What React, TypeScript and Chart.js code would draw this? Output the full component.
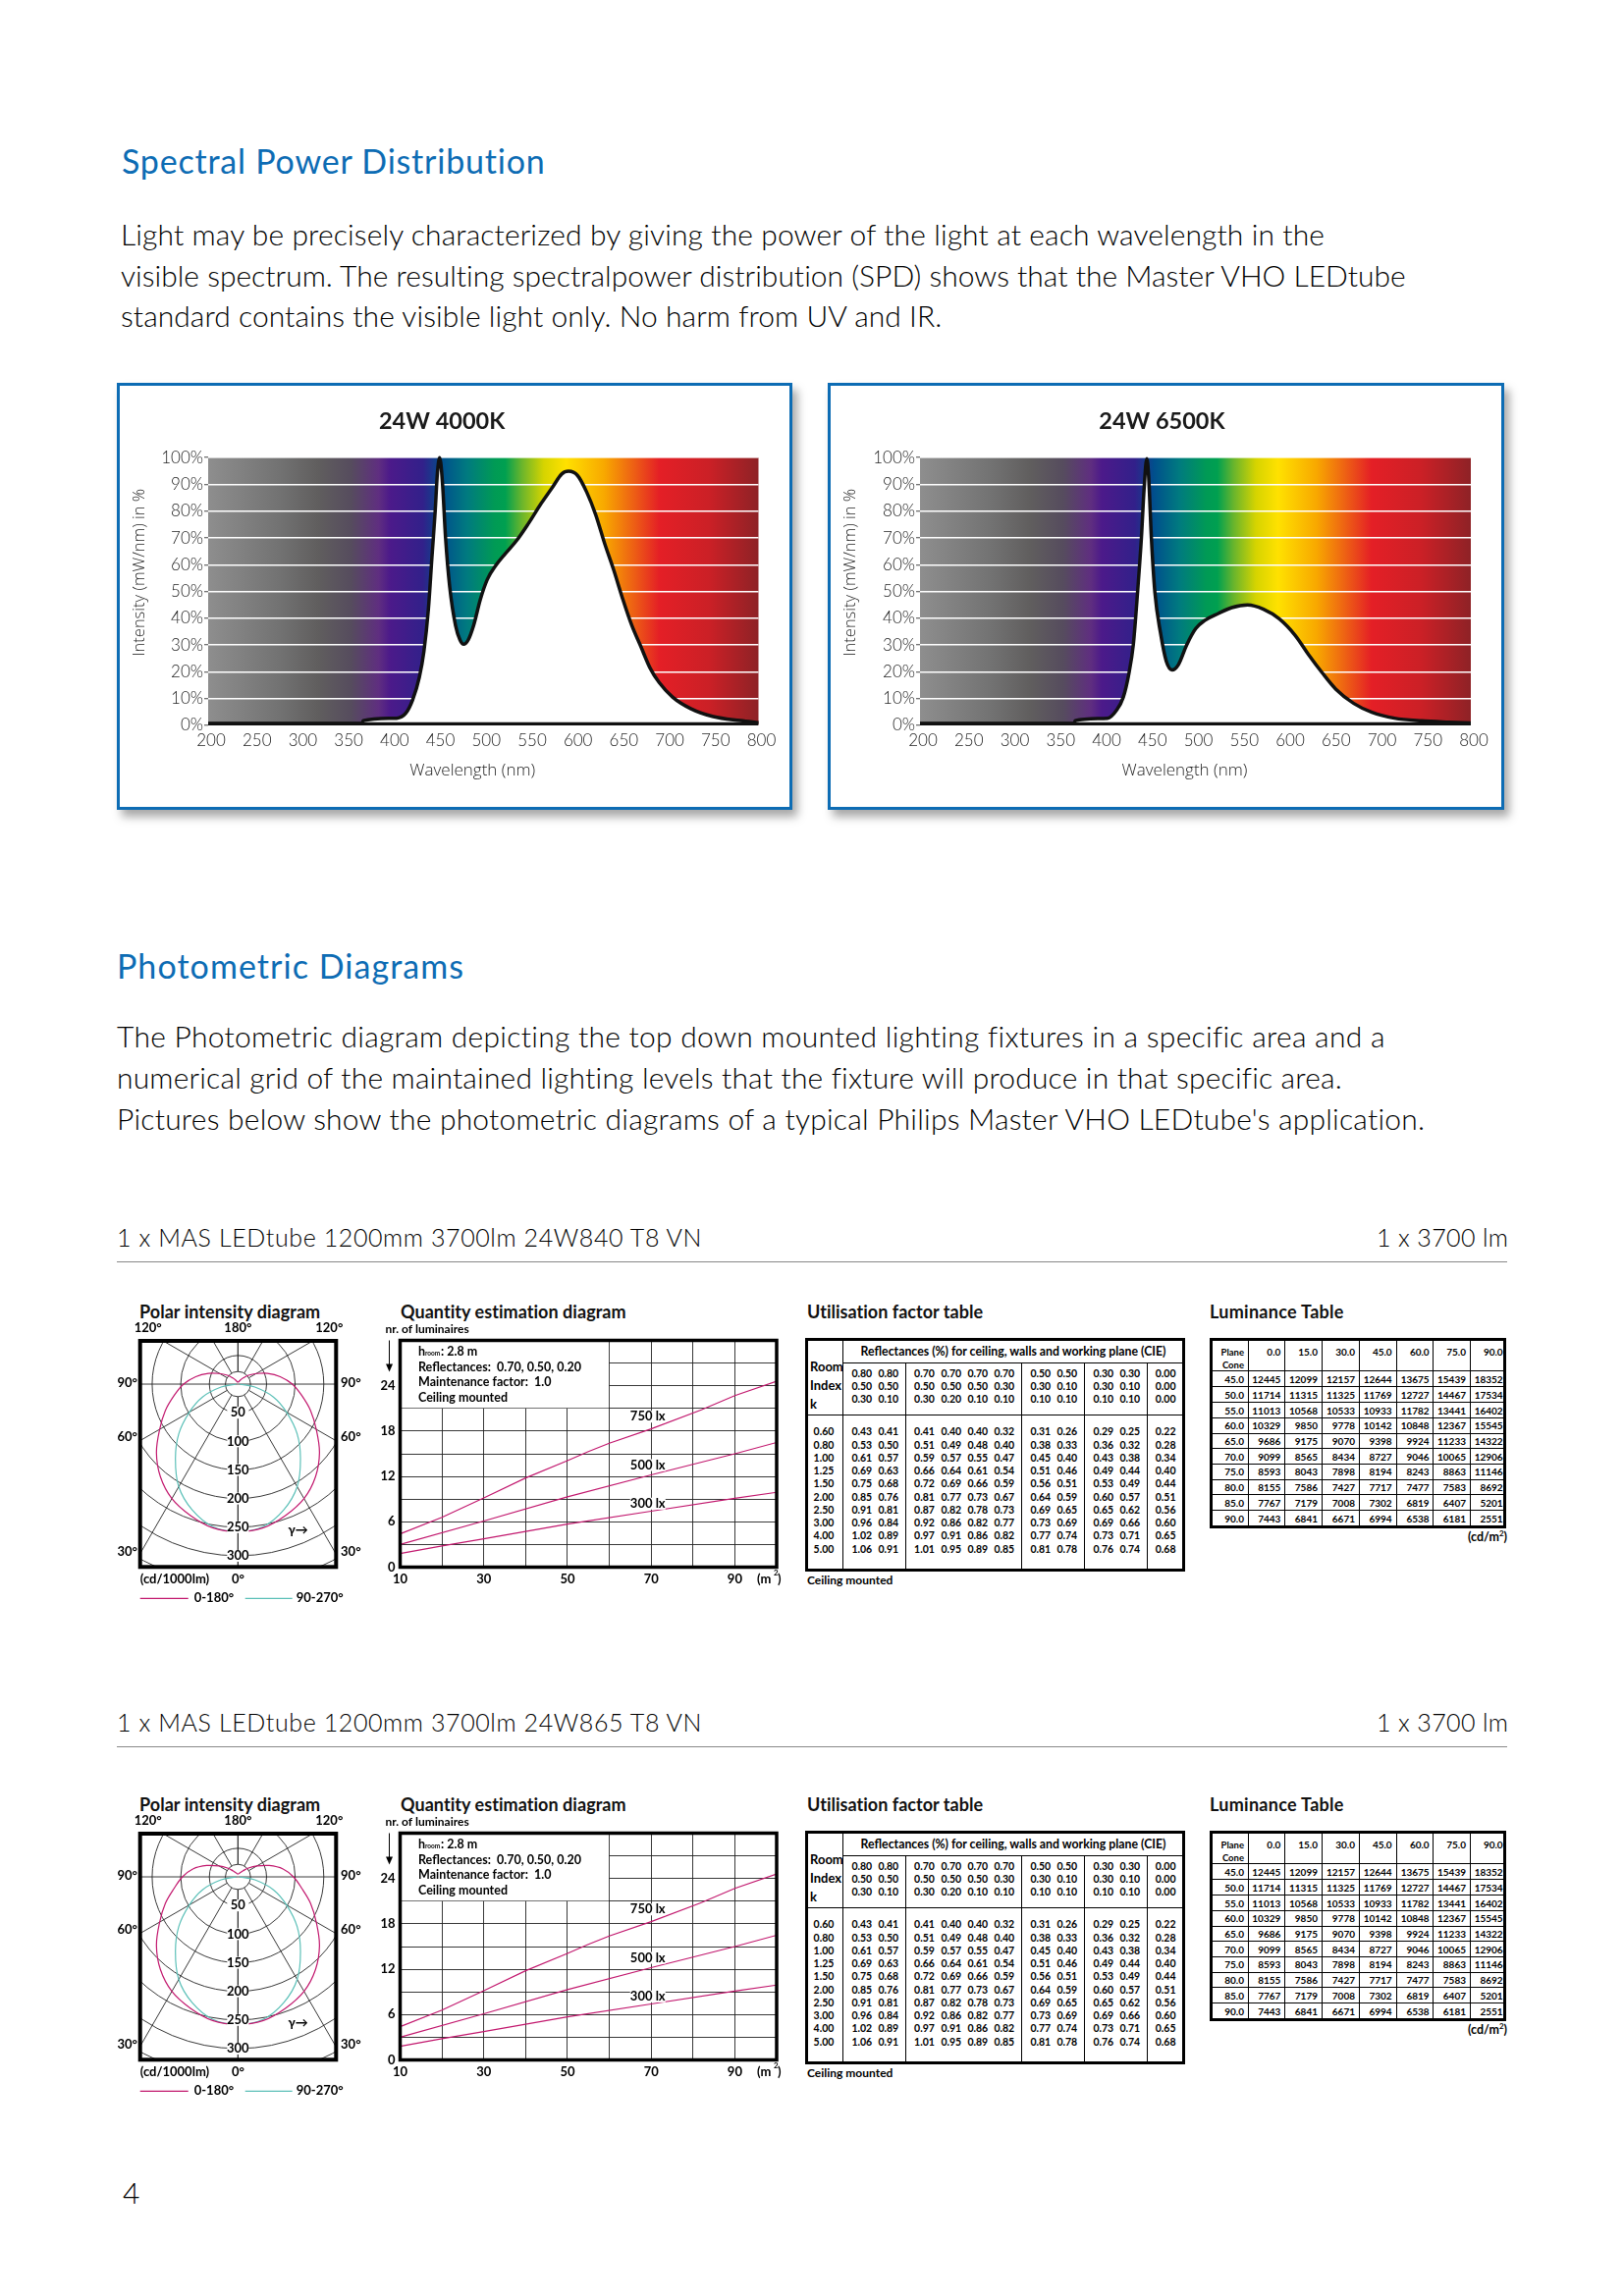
import React, { useEffect, useRef } from "react";
import { Chart, registerables } from "chart.js";
Chart.register(...registerables);

// ---------- data ----------
const SPD_TICKS_Y = [0, 10, 20, 30, 40, 50, 60, 70, 80, 90, 100];
const SPD1_NM = [200, 368, 369, 405.6, 415.4, 422.8, 430.2, 435.2, 440.1, 444, 447.5, 450, 452.4, 455.4, 458.8, 463.3, 469.7, 474.6, 478.5, 483.5, 489.4, 496.8, 504.2, 514, 523.9, 536.2, 548.6, 563.3, 575.7, 585.5, 592.9, 602.8, 612.6, 622.5, 632.4, 642.2, 652.1, 661.9, 671.8, 681.7, 691.5, 706.3, 726, 750.7, 780.3, 800];
const SPD1_PCT = [0.7, 0.7, 1.8, 2.7, 4.5, 9.4, 17.9, 27.6, 43.4, 62.9, 79.9, 94.5, 100, 90.9, 70.2, 51.9, 37.3, 31.9, 30.3, 31.9, 37.3, 47.1, 54.4, 59.9, 64.1, 69, 75.1, 83, 89.1, 93.9, 94.9, 93.3, 87.2, 78.7, 67.8, 58, 47.1, 37.3, 29.4, 21.5, 16.1, 10.6, 6.3, 3.3, 1.8, 1];
const SPD2_NM = [200, 368, 369, 404.3, 414.1, 421.5, 427.4, 432.3, 437.2, 441.2, 444.1, 447.1, 449, 452, 455.9, 461.8, 468.2, 474.6, 481.5, 490.4, 500.2, 510.1, 524.9, 539.6, 556.8, 574.1, 591.3, 608.5, 623.3, 638, 652.8, 672.5, 692.2, 716.8, 746.3, 775.9, 800];
const SPD2_PCT = [0.7, 0.7, 1.8, 2.7, 5.7, 10.6, 19.1, 30, 50.7, 70.2, 88.4, 99.6, 93.3, 70.2, 49.5, 34.9, 24, 20.7, 22.7, 30, 36.1, 39.2, 41.8, 44, 45, 43.4, 39.8, 33.7, 26.4, 19.7, 13.6, 8.2, 4.9, 2.7, 1.7, 1.2, 0.9];
const SPECTRUM_STOPS: [number, string][] = [[0, "#8e8e8e"], [0.13, "#727272"], [0.2, "#605e5e"], [0.26, "#564c5e"], [0.31, "#5f2e80"], [0.33, "#4c1a8a"], [0.39, "#32208a"], [0.425, "#004f8c"], [0.47, "#007a80"], [0.52, "#009a55"], [0.54, "#00a050"], [0.57, "#6ab52c"], [0.61, "#d6d400"], [0.65, "#ffe100"], [0.72, "#f8a800"], [0.82, "#e41f26"], [0.91, "#cb2026"], [1, "#8e2226"]];

const POLAR_THETA = [0, 10, 20, 30, 40, 50, 60, 70, 80, 90, 100, 110, 120, 130, 140, 150, 165, 180];
const POLAR_C0_A = [258, 255, 244, 231, 211, 186, 158, 135, 113, 95, 75, 55, 37, 24, 14, 8, 4, 3];
const POLAR_C0_B = [258, 255, 244, 231, 211, 186, 158, 135, 113, 97, 80, 58, 38, 24, 14, 9, 6, 4.5];
const POLAR_C90_THETA = [0, 10, 20, 30, 40, 50, 60, 70, 80, 90];
const POLAR_C90 = [258, 253, 234, 207, 170, 135, 98, 66, 30, 3];
const POLAR_RINGS = [22, 50, 100, 150, 200, 250, 300, 350, 400];
const POLAR_RING_LABELS = [50, 100, 150, 200, 250, 300];
const POLAR_SPOKES = [0, 30, 60, 90, 120, 150, 180];

const AREA_X = [10, 20, 30, 40, 50, 55, 60, 70, 82, 90, 100];
const LUX750 = [4.4, 6.6, 9.16, 11.8, 14.1, 15.3, 16.4, 18.3, 20.8, 22.7, 24.6];
const LUX500_X = [10, 30, 50, 70, 90, 100];
const LUX500 = [3.0, 6.1, 9.3, 12.2, 15, 16.5];
const LUX300_X = [10, 20, 30, 50, 70, 90, 100];
const LUX300 = [1.8, 2.8, 3.75, 5.7, 7.4, 9.1, 9.9];
const QTY_X_LABELS = [10, 30, 50, 70, 90];
const QTY_Y_LABELS = [0, 6, 12, 18, 24];
const QTY_NOTES = ["Reflectances:  0.70, 0.50, 0.20", "Maintenance factor:  1.0", "Ceiling mounted"];
const LUX_LABELS: [string, number, number][] = [["750 lx", 69.2, 19.9], ["500 lx", 69.2, 13.5], ["300 lx", 69.2, 8.4]];

const UF_HEAD = [
  ["0.80", "0.80", "0.70", "0.70", "0.70", "0.70", "0.50", "0.50", "0.30", "0.30", "0.00"],
  ["0.50", "0.50", "0.50", "0.50", "0.50", "0.30", "0.30", "0.10", "0.30", "0.10", "0.00"],
  ["0.30", "0.10", "0.30", "0.20", "0.10", "0.10", "0.10", "0.10", "0.10", "0.10", "0.00"],
];
const UF_K = ["0.60", "0.80", "1.00", "1.25", "1.50", "2.00", "2.50", "3.00", "4.00", "5.00"];
const UF_ROWS = [
  ["0.43", "0.41", "0.41", "0.40", "0.40", "0.32", "0.31", "0.26", "0.29", "0.25", "0.22"],
  ["0.53", "0.50", "0.51", "0.49", "0.48", "0.40", "0.38", "0.33", "0.36", "0.32", "0.28"],
  ["0.61", "0.57", "0.59", "0.57", "0.55", "0.47", "0.45", "0.40", "0.43", "0.38", "0.34"],
  ["0.69", "0.63", "0.66", "0.64", "0.61", "0.54", "0.51", "0.46", "0.49", "0.44", "0.40"],
  ["0.75", "0.68", "0.72", "0.69", "0.66", "0.59", "0.56", "0.51", "0.53", "0.49", "0.44"],
  ["0.85", "0.76", "0.81", "0.77", "0.73", "0.67", "0.64", "0.59", "0.60", "0.57", "0.51"],
  ["0.91", "0.81", "0.87", "0.82", "0.78", "0.73", "0.69", "0.65", "0.65", "0.62", "0.56"],
  ["0.96", "0.84", "0.92", "0.86", "0.82", "0.77", "0.73", "0.69", "0.69", "0.66", "0.60"],
  ["1.02", "0.89", "0.97", "0.91", "0.86", "0.82", "0.77", "0.74", "0.73", "0.71", "0.65"],
  ["1.06", "0.91", "1.01", "0.95", "0.89", "0.85", "0.81", "0.78", "0.76", "0.74", "0.68"],
];
const LUM_HEAD = ["0.0", "15.0", "30.0", "45.0", "60.0", "75.0", "90.0"];
const LUM_CONE = ["45.0", "50.0", "55.0", "60.0", "65.0", "70.0", "75.0", "80.0", "85.0", "90.0"];
const LUM_ROWS = [
  ["12445", "12099", "12157", "12644", "13675", "15439", "18352"],
  ["11714", "11315", "11325", "11769", "12727", "14467", "17534"],
  ["11013", "10568", "10533", "10933", "11782", "13441", "16402"],
  ["10329", "9850", "9778", "10142", "10848", "12367", "15545"],
  ["9686", "9175", "9070", "9398", "9924", "11233", "14322"],
  ["9099", "8565", "8434", "8727", "9046", "10065", "12906"],
  ["8593", "8043", "7898", "8194", "8243", "8863", "11146"],
  ["8155", "7586", "7427", "7717", "7477", "7583", "8692"],
  ["7767", "7179", "7008", "7302", "6819", "6407", "5201"],
  ["7443", "6841", "6671", "6994", "6538", "6181", "2551"],
];

// ---------- geometry of the tables (style only) ----------
const UF_COL_X = [202, 283, 393, 475, 556, 637, 748, 829, 940, 1021, 1130].map((v) => v / 3);
const UF_SEP_X = [148, 340, 695, 886, 1078].map((v) => v / 3);
const UF_HEAD_Y = [237, 276, 316].map((v) => v / 3);
const UF_ROW_Y = [415, 455, 495, 534, 574, 614, 654, 694, 733, 773].map((v) => v / 3);
const LUM_RIGHT = [238, 351, 465, 578, 692, 804, 917].map((v) => v / 3);
const LUM_SEP = [137, 250, 362, 476, 590, 703, 815].map((v) => v / 3);
const LUM_LINES = [227, 275, 323, 371, 419, 465, 513, 560, 606, 654].map((v) => v / 3);
const LUM_ROW_Y = [255, 302, 350, 397, 445, 491, 538, 586, 633, 680].map((v) => v / 3);

const SANS = "Lato, 'Open Sans', sans-serif";
const AXIS_FONT = "'Open Sans', Lato, sans-serif";
const MAGENTA = "#c2186e";
const CYAN = "#5cc0b8";
const BLUE = "#0d6cb4";

// ---------- helpers ----------
const measurer = document.createElement("canvas").getContext("2d")!;
function Fit({ x, cy, w, size, weight = 300, color = "#000", children }: any) {
  measurer.font = `${weight} ${size}px ${SANS}`;
  const text = String(children);
  const ls = w ? (w - measurer.measureText(text).width) / Math.max(1, text.length - 1) : 0;
  return (
    <div style={{ position: "absolute", left: x, top: cy - size * 0.6, lineHeight: `${size * 1.2}px`, fontSize: size, fontWeight: weight, color, fontFamily: SANS, letterSpacing: ls, whiteSpace: "pre" }}>
      {text}
    </div>
  );
}

function Cv({ left, top, width, height, config }: any) {
  const ref = useRef<HTMLCanvasElement>(null);
  useEffect(() => {
    const chart = new Chart(ref.current!, config);
    return () => chart.destroy();
  }, []);
  return (
    <div style={{ position: "absolute", left, top, width, height }}>
      <canvas ref={ref} width={width} height={height} />
    </div>
  );
}

const spectrumPlugin = {
  id: "spectrum",
  beforeDraw(chart: any) {
    const { ctx, chartArea: a } = chart;
    const g = ctx.createLinearGradient(a.left, 0, a.right, 0);
    SPECTRUM_STOPS.forEach(([p, c]) => g.addColorStop(p, c));
    ctx.save();
    ctx.fillStyle = g;
    ctx.fillRect(a.left, a.top, a.right - a.left, a.bottom - a.top);
    ctx.restore();
  },
};

function spdConfig(title: string, nm: number[], pct: number[], yW: number, xH: number, right: number) {
  return {
    type: "line",
    data: {
      datasets: [
        { label: "Baseline", data: [{ x: 200, y: 0.5 }, { x: 800, y: 0.5 }], borderColor: "#111", borderWidth: 4, pointRadius: 0, fill: false, order: 0 },
        { label: title.trim(), data: nm.map((x, i) => ({ x, y: pct[i] })), borderColor: "#111", borderWidth: 3.5, backgroundColor: "#fff", fill: "origin", pointRadius: 0, cubicInterpolationMode: "monotone", clip: 6, order: 1 },
      ],
    },
    plugins: [spectrumPlugin],
    options: {
      responsive: false,
      animation: false,
      layout: { padding: { right } },
      plugins: {
        legend: { display: false },
        tooltip: { enabled: false },
        title: { display: true, text: title, color: "#1a1a1a", font: { family: SANS, size: 23.5, weight: "700" }, padding: { top: 23, bottom: 23 } },
      },
      scales: {
        x: {
          type: "linear", min: 200, max: 800,
          grid: { display: false, drawTicks: false }, border: { display: false },
          afterFit: (s: any) => { s.height = xH; },
          ticks: { stepSize: 50, padding: 5, labelOffset: 3, maxRotation: 0, autoSkip: false, color: "#222", font: { family: SANS, size: 17, weight: "300" } },
          title: { display: true, text: "Wavelength (nm)     ", color: "#222", font: { family: AXIS_FONT, size: 17, weight: "300" }, padding: { top: 0, bottom: 28 } },
        },
        y: {
          min: 0, max: 100,
          afterFit: (s: any) => { s.width = yW; },
          afterBuildTicks: (s: any) => { s.ticks = SPD_TICKS_Y.map((value) => ({ value })); },
          grid: { color: "#fff", lineWidth: 1.5, tickColor: "#444", tickLength: 4, tickWidth: 1 }, border: { display: false },
          ticks: { padding: 1, color: "#222", callback: (v: number) => v + "%", font: { family: SANS, size: 17, weight: "300" } },
          title: { display: true, text: "         Intensity (mW/nm) in %", color: "#222", font: { family: AXIS_FONT, size: 16.5, weight: "300" }, padding: { top: 10, bottom: 0 } },
        },
      },
    },
  };
}

function txt(ctx: any, s: string, x: number, y: number, font: string, align = "center") {
  ctx.font = font;
  ctx.textAlign = align;
  ctx.textBaseline = "middle";
  ctx.fillStyle = "#000";
  ctx.fillText(s, x, y);
}
const B13 = `700 13px ${SANS}`;

const polarPlugin = {
  id: "polarGrid",
  beforeDatasetsDraw(chart: any) {
    const { ctx, chartArea: a, scales: { x, y } } = chart;
    const cx = x.getPixelForValue(0), cy = y.getPixelForValue(0);
    const ux = x.getPixelForValue(1) - cx, uy = cy - y.getPixelForValue(1);
    ctx.save();
    ctx.beginPath();
    ctx.rect(a.left, a.top, a.right - a.left, a.bottom - a.top);
    ctx.clip();
    ctx.strokeStyle = "#222";
    ctx.lineWidth = 0.9;
    POLAR_RINGS.forEach((r) => {
      ctx.beginPath();
      ctx.ellipse(cx, cy, r * ux, r * uy, 0, 0, Math.PI * 2);
      ctx.stroke();
    });
    POLAR_SPOKES.forEach((deg) => {
      const t = (deg * Math.PI) / 180;
      const start = deg === 90 ? 0 : 22;
      [-1, 1].forEach((side) => {
        ctx.beginPath();
        ctx.moveTo(cx + side * Math.sin(t) * start * ux, cy + Math.cos(t) * start * uy);
        ctx.lineTo(cx + side * Math.sin(t) * 700 * ux, cy + Math.cos(t) * 700 * uy);
        ctx.stroke();
      });
    });
    ctx.restore();
  },
  afterDatasetsDraw(chart: any) {
    const { ctx, chartArea: a, scales: { x, y } } = chart;
    const cx = x.getPixelForValue(0);
    ctx.save();
    POLAR_RING_LABELS.forEach((r) => {
      const py = y.getPixelForValue(-r);
      ctx.fillStyle = "#fff";
      ctx.fillRect(cx - 11, py - 6, 22, 12);
      txt(ctx, String(r), cx, py, B13);
    });
    txt(ctx, "γ→", x.getPixelForValue(105), y.getPixelForValue(-255), B13);
    ctx.strokeStyle = "#000";
    ctx.lineWidth = 4;
    ctx.strokeRect(a.left, a.top, a.right - a.left, a.bottom - a.top);
    const la = a.left - 13, ra = a.right + 15;
    [["120°", a.left + 8, a.top - 13], ["180°", cx, a.top - 13], ["120°", a.right - 7, a.top - 13]].forEach(([s, px, py]: any) => txt(ctx, s, px, py, B13));
    [90, 60, 30].forEach((p, i) => {
      const py = [y.getPixelForValue(2), y.getPixelForValue(-93), y.getPixelForValue(-293)][i];
      txt(ctx, p + "°", la, py, B13);
      txt(ctx, p + "°", ra, py, B13);
    });
    txt(ctx, "(cd/1000lm)", a.left, a.bottom + 13, B13, "left");
    txt(ctx, "0°", cx, a.bottom + 13, B13);
    const ds = chart.data.datasets;
    const ly = a.bottom + 32;
    ctx.lineWidth = 1.2;
    ctx.strokeStyle = ds[0].borderColor;
    ctx.beginPath(); ctx.moveTo(a.left, ly); ctx.lineTo(a.left + 49, ly); ctx.stroke();
    txt(ctx, ds[0].label, a.left + 55, ly, B13, "left");
    ctx.strokeStyle = ds[1].borderColor;
    ctx.beginPath(); ctx.moveTo(a.left + 107, ly); ctx.lineTo(a.left + 155, ly); ctx.stroke();
    txt(ctx, ds[1].label, a.left + 159, ly, B13, "left");
    ctx.restore();
  },
};

function polarSeries(theta: number[], r: number[]) {
  const right = theta.map((t, i) => ({ x: r[i] * Math.sin((t * Math.PI) / 180), y: -r[i] * Math.cos((t * Math.PI) / 180) }));
  const left = right.slice(1).reverse().map((p) => ({ x: -p.x, y: p.y }));
  return [...left, ...right];
}

function polarConfig(c0: number[]) {
  return {
    type: "scatter",
    data: {
      datasets: [
        { label: "0-180°", data: polarSeries(POLAR_THETA, c0), borderColor: MAGENTA, borderWidth: 1.2, showLine: true, pointRadius: 0, tension: 0.35 },
        { label: "90-270°", data: polarSeries(POLAR_C90_THETA, POLAR_C90), borderColor: CYAN, borderWidth: 1.2, showLine: true, pointRadius: 0, tension: 0.35 },
      ],
    },
    plugins: [polarPlugin],
    options: {
      responsive: false,
      animation: false,
      layout: { padding: { left: 32.7, right: 32.7, top: 21, bottom: 48.7 } },
      plugins: { legend: { display: false }, tooltip: { enabled: false } },
      scales: {
        x: { type: "linear", display: false, min: -171, max: 171.5 },
        y: { type: "linear", display: false, min: -319.5, max: 75.5 },
      },
    },
  };
}

const qtyPlugin = {
  id: "qty",
  beforeDatasetsDraw(chart: any) {
    const { ctx, chartArea: a, scales: { x, y } } = chart;
    const bx = x.getPixelForValue(60), by = y.getPixelForValue(21);
    ctx.save();
    ctx.fillStyle = "#fff";
    ctx.fillRect(a.left, a.top, bx - a.left - 0.5, by - a.top - 0.5);
    ctx.restore();
  },
  afterDatasetsDraw(chart: any) {
    const { ctx, chartArea: a, scales: { x, y } } = chart;
    ctx.save();
    LUX_LABELS.forEach(([s, vx, vy]) => {
      const px = x.getPixelForValue(vx), py = y.getPixelForValue(vy);
      ctx.fillStyle = "#fff";
      ctx.fillRect(px - 18, py - 6, 36, 12);
      txt(ctx, s, px, py, B13);
    });
    ctx.strokeStyle = "#000";
    ctx.lineWidth = 3.5;
    ctx.strokeRect(a.left, a.top, a.right - a.left, a.bottom - a.top);
    const tx = a.left + 18.5;
    const F = `700 12.5px ${SANS}`;
    txt(ctx, "h", tx, a.top + 11, F, "left");
    txt(ctx, "room", tx + 7, a.top + 13, `700 6.5px ${SANS}`, "left");
    txt(ctx, ": 2.8 m", tx + 23, a.top + 11, F, "left");
    QTY_NOTES.forEach((s, i) => txt(ctx, s, tx, a.top + 27 + i * 15.5, F, "left"));
    txt(ctx, "nr. of luminaires", a.left - 15, a.top - 11, `700 12px ${SANS}`, "left");
    const ax = a.left - 11;
    ctx.lineWidth = 1;
    ctx.beginPath(); ctx.moveTo(ax, a.top); ctx.lineTo(ax, a.top + 26); ctx.stroke();
    ctx.fillStyle = "#000";
    ctx.beginPath(); ctx.moveTo(ax - 3.5, a.top + 24); ctx.lineTo(ax + 3.5, a.top + 24); ctx.lineTo(ax, a.top + 32); ctx.fill();
    txt(ctx, "(m", a.right - 20, a.bottom + 12, B13, "left");
    txt(ctx, "2", a.right - 3, a.bottom + 6, `700 8px ${SANS}`, "left");
    txt(ctx, ")", a.right + 1, a.bottom + 12, B13, "left");
    ctx.restore();
  },
};

const qtyConfig = {
  type: "line",
  data: {
    datasets: [
      { label: "750 lx", data: AREA_X.map((x, i) => ({ x, y: LUX750[i] })) },
      { label: "500 lx", data: LUX500_X.map((x, i) => ({ x, y: LUX500[i] })) },
      { label: "300 lx", data: LUX300_X.map((x, i) => ({ x, y: LUX300[i] })) },
    ].map((d) => ({ ...d, borderColor: MAGENTA, borderWidth: 1.15, pointRadius: 0, fill: false })),
  },
  plugins: [qtyPlugin],
  options: {
    responsive: false,
    animation: false,
    layout: { padding: { right: 19, top: 20.5 } },
    plugins: { legend: { display: false }, tooltip: { enabled: false } },
    scales: {
      x: {
        type: "linear", min: 10, max: 100,
        afterFit: (s: any) => { s.height = 38.5; },
        grid: { color: "#222", lineWidth: 0.9, drawTicks: false }, border: { display: false },
        ticks: { stepSize: 10, padding: 5, autoSkip: false, maxRotation: 0, color: "#000", font: { family: SANS, size: 13, weight: "700" }, callback: (v: number) => (QTY_X_LABELS.includes(v) ? v : "") },
      },
      y: {
        min: 0, max: 30,
        afterFit: (s: any) => { s.width = 27.5; },
        grid: { color: "#222", lineWidth: 0.9, drawTicks: false }, border: { display: false },
        ticks: { stepSize: 3, padding: 5, autoSkip: false, color: "#000", font: { family: SANS, size: 13, weight: "700" }, callback: (v: number) => (QTY_Y_LABELS.includes(v) ? v : "") },
      },
    },
  },
};

function Line({ l, t, w, h }: any) {
  return <div style={{ position: "absolute", left: l, top: t, width: w, height: h, background: "#000" }} />;
}
function C({ x, y, size = 10.5, children, align = "center" }: any) {
  const tr = align === "center" ? "translate(-50%,-50%)" : align === "right" ? "translate(-100%,-50%)" : "translate(0,-50%)";
  return <span style={{ position: "absolute", left: x, top: y, transform: tr, font: `700 ${size}px ${SANS}`, whiteSpace: "nowrap", color: "#000" }}>{children}</span>;
}

function UfTable({ dy }: any) {
  const L = 820, T = 1320 + dy;
  return (
    <div style={{ position: "absolute", left: L, top: T, width: 390, height: 300 }}>
      <div style={{ position: "absolute", left: 0, top: 43, width: 381, height: 232, border: "3.5px solid #000" }} />
      {UF_SEP_X.map((v, i) => <Line key={i} l={v - 10.3 - 1} t={i === 0 ? 46 : 68} w={1} h={i === 0 ? 232 : 210} />)}
      <Line l={39} t={68} w={345} h={1} />
      <Line l={2} t={121} w={382} h={1} />
      <C x={212} y={56} size={12.3}>Reflectances (%) for ceiling, walls and working plane (CIE)</C>
      {["Room", "Index", "k"].map((s, i) => <C key={s} x={5} y={[72, 91, 110][i]} size={13} align="left">{s}</C>)}
      {UF_HEAD.map((r, j) => r.map((s, i) => <C key={`${j}-${i}`} x={UF_COL_X[i] - 9.5} y={UF_HEAD_Y[j]}>{s}</C>))}
      {UF_K.map((s, j) => <C key={s} x={19} y={UF_ROW_Y[j]}>{s}</C>)}
      {UF_ROWS.map((r, j) => r.map((s, i) => <C key={`r${j}-${i}`} x={UF_COL_X[i] - 9.5} y={UF_ROW_Y[j]}>{s}</C>))}
      <C x={2} y={289} size={12} align="left">Ceiling mounted</C>
    </div>
  );
}

function LumTable({ dy }: any) {
  const L = 1225, T = 1320 + dy;
  return (
    <div style={{ position: "absolute", left: L, top: T, width: 320, height: 270 }}>
      <div style={{ position: "absolute", left: 7, top: 43, width: 296, height: 188, border: "3px solid #000" }} />
      {LUM_SEP.map((v, i) => <Line key={i} l={v} t={46} w={1} h={188} />)}
      {LUM_LINES.map((v, i) => <Line key={i} l={9} t={v} w={298} h={1} />)}
      <C x={42} y={57} size={9.5} align="right">Plane</C>
      <C x={42} y={69.5} size={9.5} align="right">Cone</C>
      {LUM_HEAD.map((s, i) => <C key={s} x={LUM_RIGHT[i]} y={57} size={10} align="right">{s}</C>)}
      {LUM_CONE.map((s, j) => <C key={s} x={42} y={LUM_ROW_Y[j]} size={10} align="right">{s}</C>)}
      {LUM_ROWS.map((r, j) => r.map((s, i) => <C key={`${j}-${i}`} x={LUM_RIGHT[i]} y={LUM_ROW_Y[j]} size={10} align="right">{s}</C>))}
      <C x={310} y={245} size={12.5} align="right">(cd/m<sup style={{ fontSize: 8 }}>2</sup>)</C>
    </div>
  );
}

function Block({ dy, c0 }: any) {
  return (
    <>
      <Fit x={142} cy={1337 + dy} w={185} size={18} weight={700} color="#111">Polar intensity diagram</Fit>
      <Fit x={408} cy={1337 + dy} w={231} size={18} weight={700} color="#111">Quantity estimation diagram</Fit>
      <Fit x={822} cy={1337 + dy} w={180} size={18} weight={700} color="#111">Utilisation factor table</Fit>
      <Fit x={1232} cy={1337 + dy} w={137} size={18} weight={700} color="#111">Luminance Table</Fit>
      <Cv left={110} top={1345 + dy} width={265} height={300} config={polarConfig(c0)} />
      <Cv left={380} top={1345 + dy} width={430} height={290} config={qtyConfig} />
      <UfTable dy={dy} />
      <LumTable dy={dy} />
    </>
  );
}

function SpdBox({ left, width }: any) {
  return <div style={{ position: "absolute", left, top: 390, width, height: 435, boxSizing: "border-box", border: `3px solid ${BLUE}`, background: "#fff", boxShadow: "5px 7px 9px rgba(0,0,0,0.35)" }} />;
}

export default function App() {
  useEffect(() => { document.body.style.margin = "0"; }, []);
  return (
    <div style={{ position: "relative", width: 1654, height: 2339, background: "#fff", overflow: "hidden" }}>
      <Fit x={124} cy={164} w={432} size={34} weight={400} color={BLUE}>Spectral Power Distribution</Fit>
      <Fit x={123} cy={238} w={1230} size={30}>Light may be precisely characterized by giving the power of the light at each wavelength in the</Fit>
      <Fit x={123} cy={280} w={1313} size={30}>visible spectrum. The resulting spectralpower distribution (SPD) shows that the Master VHO LEDtube</Fit>
      <Fit x={123} cy={321} w={838} size={30}>standard contains the visible light only. No harm from UV and IR.</Fit>

      <SpdBox left={119} width={688} />
      <SpdBox left={843} width={689} />
      <Cv left={122} top={392} width={682} height={431} config={spdConfig(" 24W 4000K", SPD1_NM, SPD1_PCT, 90, 84, 31.5)} />
      <Cv left={846} top={392} width={683} height={431} config={spdConfig("    24W 6500K", SPD2_NM, SPD2_PCT, 91, 84, 31)} />

      <Fit x={119} cy={984} w={353} size={34} weight={400} color={BLUE}>Photometric Diagrams</Fit>
      <Fit x={119} cy={1055} w={1291} size={30}>The Photometric diagram depicting the top down mounted lighting fixtures in a specific area and a</Fit>
      <Fit x={119} cy={1097} w={1248} size={30}>numerical grid of the maintained lighting levels that the fixture will produce in that specific area.</Fit>
      <Fit x={119} cy={1139} w={1336} size={30}>Pictures below show the photometric diagrams of a typical Philips Master VHO LEDtube's application.</Fit>

      <Fit x={119} cy={1260} w={597} size={25}>1 x MAS LEDtube 1200mm 3700lm 24W840 T8 VN</Fit>
      <Fit x={1402} cy={1260} w={134} size={25}>1 x 3700 lm</Fit>
      <div style={{ position: "absolute", left: 119, top: 1285, width: 1416, height: 1, background: "#888" }} />
      <Block dy={0} c0={POLAR_C0_A} />

      <Fit x={119} cy={1754} w={597} size={25}>1 x MAS LEDtube 1200mm 3700lm 24W865 T8 VN</Fit>
      <Fit x={1402} cy={1754} w={134} size={25}>1 x 3700 lm</Fit>
      <div style={{ position: "absolute", left: 119, top: 1779, width: 1416, height: 1, background: "#888" }} />
      <Block dy={502} c0={POLAR_C0_B} />

      <Fit x={125} cy={2233} size={30}>4</Fit>
    </div>
  );
}
